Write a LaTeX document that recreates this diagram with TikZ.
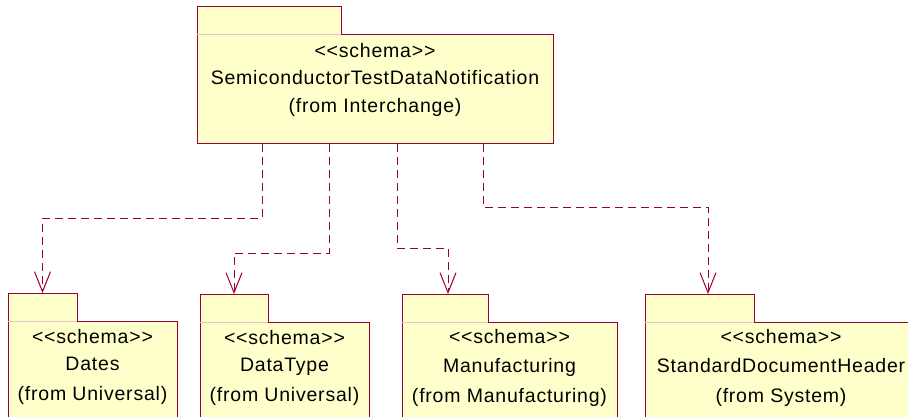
\documentclass[tikz,border=0pt]{standalone}
\usepackage{fontspec}
\setmainfont{Liberation Sans}[LetterSpace=4]
\usetikzlibrary{arrows.meta}
\definecolor{pkgline}{HTML}{990033}
\definecolor{pkgfill}{HTML}{FFFFCC}
\definecolor{tabseam}{HTML}{E6C4C8}
\newcommand{\stereo}{<{}<schema>{}>}
\tikzset{
  pkgpart/.style={draw=pkgline, fill=pkgfill, line width=1pt, inner sep=0pt, outer sep=0pt, anchor=north west},
  pkgtext/.style={anchor=base, inner sep=0pt, font=\fontsize{19.5}{22}\selectfont},
  seam/.style={draw=tabseam, line width=1pt},
  dep/.style={draw=pkgline, line width=1pt, dash pattern=on 8pt off 5pt,
    -{Straight Barb[length=20pt,width=16pt]}},
}
\begin{document}
\begin{tikzpicture}[x=1pt,y=1pt]
\clip (0,0) rectangle (908,-417);

% top package: SemiconductorTestDataNotification
\node[pkgpart, minimum width=144pt, minimum height=28pt] (top-tab) at (197,-7) {};
\node[pkgpart, minimum width=356pt, minimum height=109pt] (top) at (197,-35) {};
\draw[seam] (top-tab.south west) -- (top-tab.south east);
\node[pkgtext] (top-st) at (375,-58) {\stereo};
\node[pkgtext] (top-nm) at (375,-85) {SemiconductorTestDataNotification};
\node[pkgtext] (top-fr) at (375,-113) {(from Interchange)};

% Dates
\node[pkgpart, minimum width=69pt, minimum height=28pt] (dates-tab) at (8,-293) {};
\node[pkgpart, minimum width=169pt, minimum height=120pt] (dates) at (8,-321) {};
\draw[seam] (dates-tab.south west) -- (dates-tab.south east);
\node[pkgtext] (dates-st) at (92.5,-343) {\stereo};
\node[pkgtext] (dates-nm) at (92.5,-370) {Dates};
\node[pkgtext] (dates-fr) at (92.5,-400) {(from Universal)};

% DataType
\node[pkgpart, minimum width=68pt, minimum height=28pt] (dtype-tab) at (200,-294) {};
\node[pkgpart, minimum width=169pt, minimum height=120pt] (dtype) at (200,-322) {};
\draw[seam] (dtype-tab.south west) -- (dtype-tab.south east);
\node[pkgtext] (dtype-st) at (284.5,-344) {\stereo};
\node[pkgtext] (dtype-nm) at (284.5,-371) {DataType};
\node[pkgtext] (dtype-fr) at (284.5,-401) {(from Universal)};

% Manufacturing
\node[pkgpart, minimum width=86pt, minimum height=28pt] (manu-tab) at (402,-294) {};
\node[pkgpart, minimum width=215pt, minimum height=120pt] (manu) at (402,-322) {};
\draw[seam] (manu-tab.south west) -- (manu-tab.south east);
\node[pkgtext] (manu-st) at (509.5,-343) {\stereo};
\node[pkgtext] (manu-nm) at (509.5,-372) {Manufacturing};
\node[pkgtext] (manu-fr) at (509.5,-402) {(from Manufacturing)};

% StandardDocumentHeader
\node[pkgpart, minimum width=109pt, minimum height=28pt] (sdh-tab) at (645,-294) {};
\node[pkgpart, minimum width=272pt, minimum height=120pt] (sdh) at (645,-322) {};
\draw[seam] (sdh-tab.south west) -- (sdh-tab.south east);
\node[pkgtext] (sdh-st) at (781,-343) {\stereo};
\node[pkgtext] (sdh-nm) at (781,-372) {StandardDocumentHeader};
\node[pkgtext] (sdh-fr) at (781,-402) {(from System)};

% dependencies
\draw[dep] ([xshift=65pt]top.south west) -- ++(0,-74) -| (dates-tab.north);
\draw[dep] ([xshift=132pt]top.south west) -- ++(0,-109) -| (dtype-tab.north);
\draw[dep] ([xshift=200pt]top.south west) -- ++(0,-104) -| ([xshift=3pt]manu-tab.north);
\draw[dep] ([xshift=286pt]top.south west) -- ++(0,-63) -| ([xshift=8.5pt]sdh-tab.north);
\end{tikzpicture}
\end{document}
